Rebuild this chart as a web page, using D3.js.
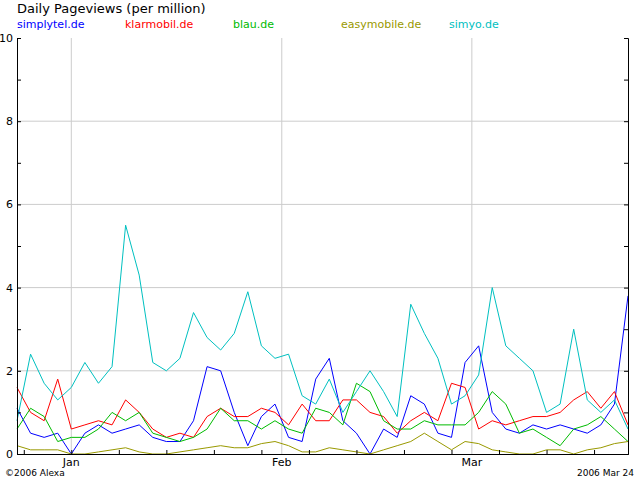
<!DOCTYPE html>
<html><head><meta charset="utf-8">
<script src="https://cdn.jsdelivr.net/npm/d3@7"></script>
<style>body{margin:0;background:#fff}text{font-family:"DejaVu Sans",Verdana,sans-serif}</style>
</head><body><svg id="c" width="640" height="480"></svg>
<script>
// every second day from 2005-12-24
let names = ["simplytel.de","klarmobil.de","blau.de","easymobile.de","simyo.de"];
let colors = ["#0000ff","#ff0000","#00bb00","#999900","#00c0c0"];
let simplytel = [1.1,0.5,0.4,0.5,0.0,0.5,0.7,0.5,0.6,0.7,0.4,0.3,0.3,0.8,2.1,2.0,1.0,0.2,0.9,1.2,0.4,0.3,1.8,2.3,0.8,0.5,0.0,0.6,0.4,1.4,1.2,0.5,0.4,2.2,2.6,1.0,0.6,0.5,0.7,0.6,0.7,0.6,0.5,0.7,1.2,3.8];
let klarmobil = [1.6,1.0,0.8,1.8,0.6,0.7,0.8,0.7,1.3,1.0,0.6,0.4,0.5,0.4,0.9,1.1,0.9,0.9,1.1,1.0,0.7,1.2,0.8,0.8,1.3,1.3,1.0,0.9,0.5,0.8,1.0,0.8,1.7,1.6,0.6,0.8,0.7,0.8,0.9,0.9,1.0,1.3,1.5,1.1,1.5,0.7];
let blau = [0.6,1.1,0.9,0.3,0.4,0.4,0.6,1.0,0.8,1.0,0.5,0.4,0.3,0.4,0.6,1.1,0.8,0.8,0.6,0.8,0.6,0.5,1.1,1.0,0.7,1.7,1.5,0.8,0.6,0.6,0.8,0.7,0.7,0.7,1.0,1.5,1.2,0.5,0.6,0.4,0.2,0.6,0.7,0.9,0.6,0.3];
let easymobile = [0.2,0.1,0.1,0.1,0.0,0.0,0.05,0.1,0.15,0.05,0.0,0.0,0.05,0.1,0.15,0.2,0.15,0.15,0.25,0.3,0.2,0.05,0.05,0.15,0.1,0.05,0.0,0.1,0.2,0.3,0.5,0.3,0.1,0.3,0.25,0.1,0.05,0.0,0.0,0.1,0.1,0.0,0.1,0.15,0.25,0.3];
let simyo = [0.8,2.4,1.7,1.3,1.6,2.2,1.7,2.1,5.5,4.3,2.2,2.0,2.3,3.4,2.8,2.5,2.9,3.9,2.6,2.3,2.4,1.4,1.2,1.8,1.0,1.5,2.0,1.5,0.9,3.6,2.9,2.3,1.2,1.4,1.9,4.0,2.6,2.3,2.0,1.0,1.2,3.0,1.3,1.0,1.3,0.6];
let yTicks = [0,2,4,6,8,10];
let monthTicks = [new Date(2006,0,1),new Date(2006,1,1),new Date(2006,2,1)];
let series = [simplytel,klarmobil,blau,easymobile,simyo];

let start = new Date(2005,11,24);
let dates = simyo.map((v,i)=>d3.timeDay.offset(start,i*2));
let svg = d3.select("#c");
let x = d3.scaleTime().domain([start,new Date(2006,2,24)]).range([17,628]);
let y = d3.scaleLinear().domain([0,10]).range([454,38]);

// grid
svg.selectAll(".hg").data(yTicks.slice(1,-1)).enter().append("line")
  .attr("x1",17).attr("x2",628).attr("y1",d=>y(d)).attr("y2",d=>y(d)).attr("stroke","#ccc");
svg.selectAll(".vg").data(monthTicks).enter().append("line")
  .attr("x1",d=>x(d)).attr("x2",d=>x(d)).attr("y1",38).attr("y2",454).attr("stroke","#ccc");

let line = d3.line().x((d,i)=>x(dates[i])).y(d=>y(d));
series.forEach((s,k)=>{
  svg.append("path").attr("d",line(s)).attr("fill","none").attr("stroke",colors[k]).attr("stroke-width",1);
});

// axes
let yl = d3.axisLeft(y).tickValues(d3.range(0,11,1)).tickSize(-4).tickFormat(d=>d%2==0?d:"");
let ga = svg.append("g").attr("transform","translate(17,0)").call(yl);
ga.selectAll("text").attr("x",-4).attr("font-size",11);
let yr = d3.axisRight(y).tickValues(d3.range(0,11,1)).tickSize(-4).tickFormat("");
svg.append("g").attr("transform","translate(628,0)").call(yr);
let xb = d3.axisBottom(x).ticks(d3.timeWeek.every(1)).tickSize(-4).tickFormat("");
svg.append("g").attr("transform","translate(0,454)").call(xb);
svg.selectAll(".domain").attr("stroke","#000");
svg.selectAll(".mlab").data(monthTicks).enter().append("text")
  .attr("x",d=>x(d)).attr("y",466).attr("text-anchor","middle").attr("font-size",11)
  .text(d3.timeFormat("%b"));

svg.append("text").attr("x",17).attr("y",13).attr("font-size",13).text("Daily Pageviews (per million)");
let lx = [17,125,233,341,449];
names.forEach((n,k)=>svg.append("text").attr("x",lx[k]).attr("y",28).attr("font-size",11).attr("fill",colors[k]).text(n));
svg.append("text").attr("x",5).attr("y",476).attr("font-size",9).text("©2006 Alexa");
svg.append("text").attr("x",634).attr("y",476).attr("font-size",9).attr("text-anchor","end").text("2006 Mar 24");
</script></body></html>
